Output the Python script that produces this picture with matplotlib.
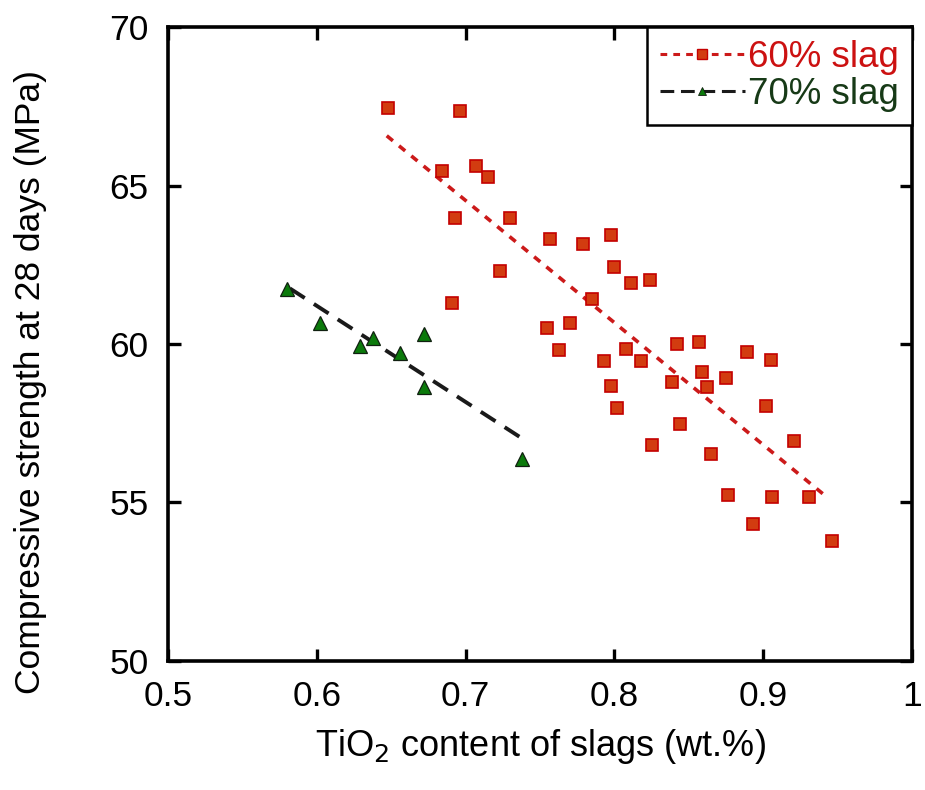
import matplotlib
matplotlib.use("Agg")
import matplotlib.pyplot as plt

plt.rcParams['font.family'] = ['Liberation Sans', 'DejaVu Sans']

# 60% slag data
x60 = [0.648, 0.696, 0.684, 0.707, 0.715, 0.693, 0.730, 0.723, 0.691,
       0.757, 0.779, 0.798, 0.800, 0.811, 0.824, 0.785, 0.755, 0.770,
       0.763, 0.793, 0.808, 0.818, 0.798, 0.802, 0.842, 0.857, 0.839,
       0.859, 0.862, 0.875, 0.889, 0.905, 0.902, 0.844, 0.825, 0.865,
       0.921, 0.876, 0.906, 0.931, 0.893, 0.946]
y60 = [67.45, 67.36, 65.47, 65.60, 65.28, 63.99, 63.96, 62.30, 61.29,
       63.32, 63.14, 63.45, 62.44, 61.91, 62.02, 61.42, 60.49, 60.65,
       59.81, 59.47, 59.84, 59.47, 58.67, 57.98, 60.00, 60.07, 58.81,
       59.11, 58.64, 58.92, 59.74, 59.50, 58.06, 57.48, 56.82, 56.54,
       56.93, 55.23, 55.18, 55.18, 54.32, 53.78]
fit60_x = [0.647, 0.942]
fit60_y = [66.57, 55.20]

# 70% slag data
x70 = [0.580, 0.602, 0.629, 0.638, 0.656, 0.672, 0.672, 0.738]
y70 = [61.75, 60.66, 59.95, 60.20, 59.72, 60.30, 58.64, 56.38]
fit70_x = [0.582, 0.737]
fit70_y = [61.75, 57.05]

xticks = [0.5, 0.6, 0.7, 0.8, 0.9, 1.0]
xticklabels = ['0.5', '0.6', '0.7', '0.8', '0.9', '1']
yticks = [50, 55, 60, 65, 70]

fig = plt.figure(figsize=(9.25, 7.9), dpi=100)
ax = fig.add_axes([0.1816, 0.1633, 0.8044, 0.8025])

red_fill = '#d23c10'
red_edge = '#c40000'
red_line = '#cc1a1a'
green_fill = '#0b7a0b'

ax.plot(fit60_x, fit60_y, color=red_line, lw=2.6, ls=(0, (2.2, 2.2)), zorder=2)
ax.plot(fit70_x, fit70_y, color='#1a1a1a', lw=2.8, ls=(0, (4.5, 2.8)), zorder=2)
ax.plot(x60, y60, ls='none', marker='s', ms=9, mfc=red_fill, mec=red_edge,
        mew=1.2, zorder=3)
ax.plot(x70, y70, ls='none', marker='^', ms=9.5, mfc=green_fill, mec='#102010',
        mew=0.9, zorder=3)

# legend proxies
h60, = ax.plot([], [], color=red_line, lw=2.2, ls=(0, (2.2, 2.0)), marker='s',
               ms=7.5, mfc=red_fill, mec=red_edge, mew=1.0)
h70, = ax.plot([], [], color='#1a1a1a', lw=2.2, ls=(0, (4.5, 2.2)), marker='^',
               ms=6, mfc=green_fill, mec='#102010', mew=0.6)
leg = ax.legend([h60, h70], ['60% slag', '70% slag'], loc='upper right',
                borderaxespad=0, fontsize=26.5, handlelength=2.3, handletextpad=0.1,
                labelspacing=0.05, borderpad=0.35, fancybox=False, framealpha=1,
                edgecolor='black', numpoints=1)
leg.get_frame().set_linewidth(1.8)
leg.get_texts()[0].set_color('#cc1111')
leg.get_texts()[1].set_color('#173a17')

ax.set_xlim(0.5, 1.0)
ax.set_ylim(50, 70)
ax.set_xticks(xticks)
ax.set_xticklabels(xticklabels)
ax.set_yticks(yticks)
ax.tick_params(direction='in', length=9, width=2.4, labelsize=25.5, pad=14,
               top=True, right=True, colors='black')
for s in ax.spines.values():
    s.set_linewidth(2.6)

ax.set_xlabel('TiO$_2$ content of slags (wt.%)', fontsize=26, labelpad=10)
ax.set_ylabel('Compressive strength at 28 days (MPa)', fontsize=25.5)
ax.yaxis.set_label_coords(-0.163, 0.44)

fig.savefig('out.png', dpi=100)
